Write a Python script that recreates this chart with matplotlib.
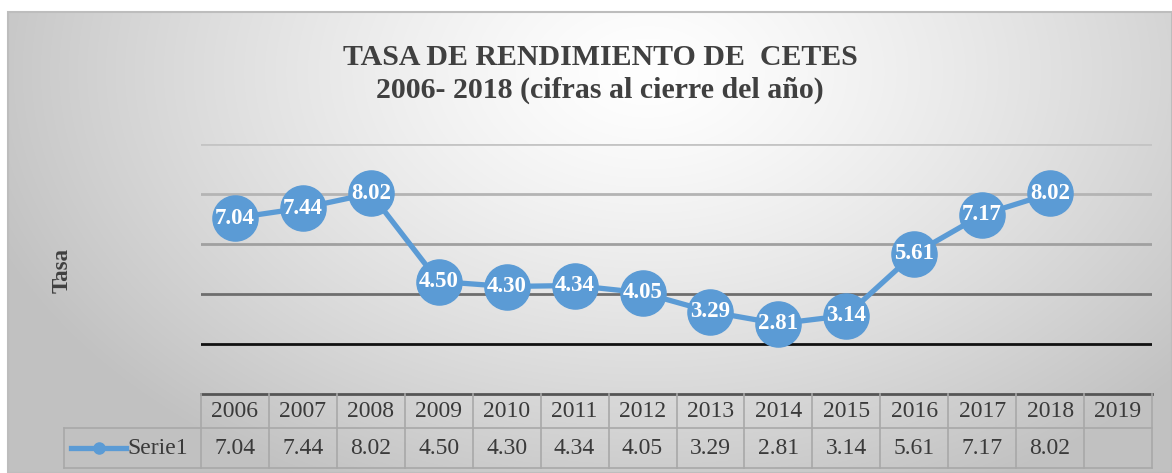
import numpy as np
import matplotlib
matplotlib.use("Agg")
import matplotlib.pyplot as plt
from matplotlib.patches import Rectangle
from matplotlib.lines import Line2D

years = ["2006", "2007", "2008", "2009", "2010", "2011", "2012", "2013",
         "2014", "2015", "2016", "2017", "2018", "2019"]
values = [7.04, 7.44, 8.02, 4.50, 4.30, 4.34, 4.05, 3.29, 2.81, 3.14, 5.61, 7.17, 8.02, None]
series_name = "Serie1"
title = "TASA DE RENDIMIENTO DE  CETES\n2006- 2018 (cifras al cierre del año)"
ylabel = "Tasa"

W, H = 1172, 473
fig = plt.figure(figsize=(W / 100, H / 100), dpi=100)
fig.patch.set_facecolor("white")

# gradient chart-area background
bg = fig.add_axes([8 / W, 0, 1 - 8 / W, 1 - 12 / H], zorder=0)
bg.set_axis_off()
gx, gy = np.meshgrid(np.linspace(0, 1164, 400), np.linspace(0, 461, 200))
r = np.sqrt(((gx - 640) / 1.0) ** 2 + ((gy - 60) * 1.5) ** 2)
t = np.clip(r / 700, 0, 1)
shade = 1.0 - 0.24 * t ** 1.3
bg.imshow(np.dstack([shade, shade, shade]), extent=[0, 1, 0, 1], aspect="auto",
          origin="upper", interpolation="bilinear")
bg.set_xlim(0, 1)
bg.set_ylim(0, 1)
fig.add_artist(Rectangle((8 / W, 0), 1 - 8 / W, 1 - 12 / H, transform=fig.transFigure,
                         fill=False, edgecolor="#bdbdbd", linewidth=1.5, zorder=1))

serif = "Liberation Serif"
L, R = 201 / W, 1152 / W
B, T = (H - 394) / H, (H - 144) / H
ax = fig.add_axes([L, B, R - L, T - B], zorder=2)
ax.patch.set_alpha(0)
n = len(years)
x = np.arange(n)
ax.set_xlim(-0.5, n - 0.5)
ax.set_ylim(0, 10)
for s in ax.spines.values():
    s.set_visible(False)
ax.set_xticks([])
ax.set_yticks([])

grid_colors = {2: "#111111", 4: "#6e6e6e", 6: "#a0a0a0", 8: "#b4b4b4", 10: "#c4c4c4"}
for gv, gc in grid_colors.items():
    ax.axhline(gv, color=gc, linewidth=2.0, zorder=1)
ax.axhline(0, color="#555555", linewidth=2.0, zorder=1, clip_on=False)

xs = [xi for xi, v in zip(x, values) if v is not None]
vs = [v for v in values if v is not None]
blue = "#5B9BD5"
ax.plot(xs, vs, color=blue, linewidth=3.8, marker="o", markersize=32.5,
        markerfacecolor=blue, markeredgecolor=blue, zorder=3, solid_joinstyle="round")
for xi, v in zip(xs, vs):
    ax.text(xi, v, f"{v:.2f}", ha="center", va="center", color="white",
            fontsize=16.5, fontweight="bold", family=serif, zorder=4)

def yax(py):
    return (H - py - B * H) / ((T - B) * H)

row1_top, row1_bot, row2_bot = 394, 428, 468
tcolor = "#a8a8a8"
bt = ax.get_xaxis_transform()
for i in range(n + 1):
    xe = i - 0.5
    ax.add_line(Line2D([xe, xe], [yax(row1_top), yax(row2_bot)], transform=bt,
                       color=tcolor, linewidth=1.2, clip_on=False))
ax.add_line(Line2D([-0.5, n - 0.5], [yax(row1_bot)] * 2, transform=bt,
                   color=tcolor, linewidth=1.2, clip_on=False))
ax.add_line(Line2D([-0.5, n - 0.5], [yax(row2_bot)] * 2, transform=bt,
                   color=tcolor, linewidth=1.2, clip_on=False))
lx0 = -0.5 - (201 - 64) / ((R - L) * W) * n
ax.add_line(Line2D([lx0, -0.5], [yax(row1_bot)] * 2, transform=bt,
                   color=tcolor, linewidth=1.2, clip_on=False))
ax.add_line(Line2D([lx0, -0.5], [yax(row2_bot)] * 2, transform=bt,
                   color=tcolor, linewidth=1.2, clip_on=False))
ax.add_line(Line2D([lx0, lx0], [yax(row1_bot), yax(row2_bot)], transform=bt,
                   color=tcolor, linewidth=1.2, clip_on=False))

ymid1 = yax((row1_top + row1_bot) / 2)
ymid2 = yax((row1_bot + row2_bot) / 2)
for i, yr in enumerate(years):
    ax.text(i, ymid1, yr, transform=bt, ha="center", va="center", fontsize=17,
            family=serif, color="#3a3a3a", clip_on=False)
    v = values[i]
    if v is not None:
        ax.text(i, ymid2, f"{v:.2f}", transform=bt, ha="center", va="center",
                fontsize=17, family=serif, color="#3a3a3a", clip_on=False)
unit = n / ((R - L) * W)
kx0 = lx0 + 7 * unit
kx1 = lx0 + 62 * unit
ax.add_line(Line2D([kx0, kx1], [ymid2, ymid2], transform=bt, color=blue,
                   linewidth=3.8, clip_on=False))
ax.add_line(Line2D([(kx0 + kx1) / 2], [ymid2], transform=bt, color=blue,
                   marker="o", markersize=8, clip_on=False))
ax.text(lx0 + 63 * unit, ymid2, series_name, transform=bt, ha="left", va="center",
        fontsize=17, family=serif, color="#3a3a3a", clip_on=False)

fig.text(600 / W, 1 - 74 / H, title, ha="center", va="center", fontsize=21.5,
         fontweight="bold", family=serif, color="#404040", linespacing=1.25)
fig.text(62 / W, 1 - 270 / H, ylabel, ha="center", va="center", rotation=90,
         fontsize=16.5, fontweight="bold", family=serif, color="#404040")

fig.savefig("out.png", dpi=100)
